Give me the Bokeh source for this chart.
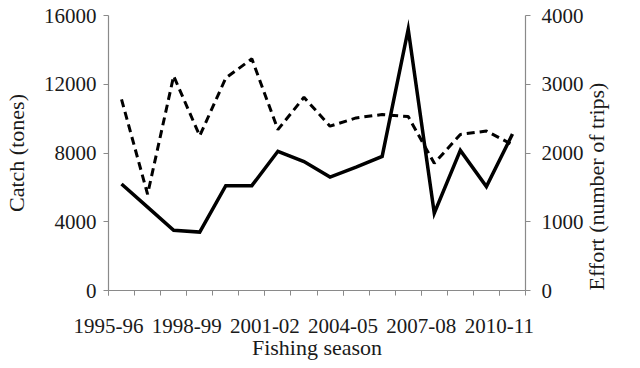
import math
from bokeh.plotting import figure
from bokeh.models import LinearAxis, Range1d, FixedTicker
from bokeh.embed import file_html
from bokeh.resources import INLINE

seasons = ["1995-96", "1996-97", "1997-98", "1998-99", "1999-00", "2000-01",
           "2001-02", "2002-03", "2003-04", "2004-05", "2005-06", "2006-07",
           "2007-08", "2008-09", "2009-10", "2010-11"]
catch_tonnes = [6200, 4850, 3500, 3400, 6100, 6100, 8100, 7500, 6600, 7180,
                7800, 15200, 4500, 8150, 6050, 9100]
effort_trips = [2780, 1400, 3120, 2250, 3090, 3370, 2340, 2810, 2390, 2510,
                2560, 2530, 1850, 2270, 2320, 2120]
left_ticks = [0, 4000, 8000, 12000, 16000]
right_ticks = [0, 1000, 2000, 3000, 4000]
label_step = 3
x_title = "Fishing season"
left_title = "Catch (tones)"
right_title = "Effort (number of trips)"

n = len(seasons)
xs = [i + 0.5 for i in range(n)]

FONT = "Liberation Serif"
AXIS_COLOR = "#8a8a8a"
TEXT_COLOR = "#1a1a1a"

p = figure(width=624, height=362, output_backend="svg", toolbar_location=None,
           x_range=Range1d(0, n), y_range=Range1d(0, left_ticks[-1]),
           min_border_left=94, min_border_right=93, min_border_top=15,
           min_border_bottom=72)
p.extra_y_ranges = {"effort": Range1d(0, right_ticks[-1])}
p.outline_line_color = None
p.xgrid.visible = False
p.ygrid.visible = False

p.line(xs, effort_trips, y_range_name="effort", line_color="black",
       line_width=3, line_dash="8 5")
p.line(xs, catch_tonnes, line_color="black", line_width=3.5, line_join="miter")

label_pos = list(range(0, n, label_step))
xa = p.xaxis[0]
xa.ticker = FixedTicker(ticks=label_pos, minor_ticks=list(range(n + 1)))
xa.major_label_overrides = {i: seasons[i] for i in label_pos}
xa.axis_label = x_title

ya = p.yaxis[0]
ya.ticker = FixedTicker(ticks=left_ticks, minor_ticks=[])
ya.axis_label = left_title

ra = LinearAxis(y_range_name="effort", ticker=FixedTicker(ticks=right_ticks, minor_ticks=[]),
                axis_label=right_title)
ra.axis_label_orientation = math.pi / 2
ra.axis_label_align = "start"
p.add_layout(ra, "right")

for ax in (xa, ya, ra):
    ax.axis_line_color = AXIS_COLOR
    ax.axis_line_width = 1.2
    ax.major_tick_line_color = AXIS_COLOR
    ax.minor_tick_line_color = AXIS_COLOR
    ax.major_tick_out = 5
    ax.major_tick_in = 0
    ax.minor_tick_out = 5
    ax.minor_tick_in = 0
    ax.major_label_text_font = FONT
    ax.major_label_text_font_size = "21px"
    ax.major_label_text_color = TEXT_COLOR
    ax.axis_label_text_font = FONT
    ax.axis_label_text_font_size = "22px"
    ax.axis_label_text_font_style = "normal"
    ax.axis_label_text_color = TEXT_COLOR

xa.major_label_standoff = 23
xa.axis_label_standoff = -1
ya.major_label_standoff = 7
ya.axis_label_standoff = 12
ra.major_label_standoff = 11
ra.axis_label_standoff = 10

open("out.html", "w").write(file_html(p, INLINE))
